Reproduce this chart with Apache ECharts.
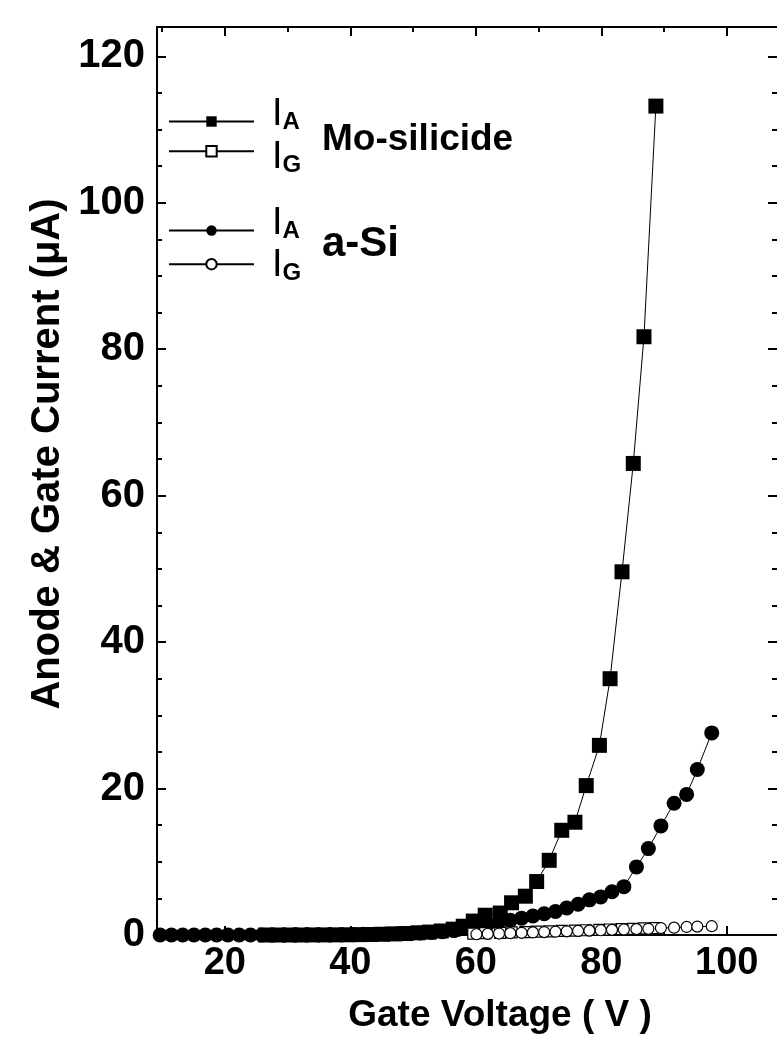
<!DOCTYPE html>
<html>
<head>
<meta charset="utf-8">
<script src="https://cdn.jsdelivr.net/npm/echarts@6/dist/echarts.min.js"></script>
<style>
  html, body { margin: 0; padding: 0; background: #fff; }
  #chart { width: 777px; height: 1037px; }
</style>
</head>
<body>
<div id="chart"></div>
<script>
// gate voltage (V) and currents (uA)
var moV    = [26.5, 28.4, 30.3, 32.1, 34.0, 35.9, 37.7, 39.6, 41.5, 43.3, 45.2, 47.1, 48.9, 50.8, 52.6, 54.5, 56.4, 58.0,
              59.6, 61.5, 63.9, 65.7, 67.9, 69.7, 71.7, 73.7, 75.8, 77.6, 79.7, 81.4, 83.3, 85.1, 86.8, 88.7];
var moIA   = [0, 0, 0, 0, 0.01, 0.01, 0.02, 0.03, 0.05, 0.07, 0.1, 0.15, 0.2, 0.3, 0.4, 0.55, 0.8, 1.2,
              1.9, 2.7, 3.0, 4.4, 5.3, 7.3, 10.2, 14.3, 15.4, 20.4, 25.9, 35.0, 49.6, 64.4, 81.7, 113.2];
var moIGV  = [59.6, 61.5, 63.9, 65.7, 67.9, 69.7, 71.7, 73.7, 75.8, 77.6, 79.7, 81.4, 83.3, 85.1, 86.8, 88.7];
var moIG   = [0.2, 0.25, 0.3, 0.35, 0.4, 0.45, 0.5, 0.55, 0.6, 0.65, 0.7, 0.75, 0.8, 0.85, 0.9, 0.95];

var siV    = [9.7, 11.5, 13.3, 15.1, 16.9, 18.7, 20.5, 22.3, 24.1, 25.9, 27.7, 29.5, 31.3, 33.1, 34.9, 36.7, 38.5,
              40.3, 42.1, 43.9, 45.7, 47.5, 49.3, 51.1, 52.9, 54.7, 56.5, 58.3, 60.1, 61.9, 63.7, 65.5, 67.3,
              69.1, 70.9, 72.7, 74.5, 76.3, 78.1, 79.9, 81.7, 83.6, 85.6, 87.5, 89.5, 91.6, 93.6, 95.3, 97.6];
var siIA   = [0, 0, 0, 0, 0, 0, 0, 0, 0, 0, 0, 0.01, 0.02, 0.02, 0.03, 0.04, 0.05,
              0.07, 0.09, 0.11, 0.14, 0.18, 0.22, 0.28, 0.35, 0.45, 0.6, 0.9, 1.2, 1.5, 1.8, 2.0, 2.3,
              2.6, 2.9, 3.2, 3.7, 4.2, 4.8, 5.2, 5.9, 6.6, 9.3, 11.8, 14.9, 18.0, 19.2, 22.6, 27.6];
var siIGV  = [60.1, 61.9, 63.7, 65.5, 67.3, 69.1, 70.9, 72.7, 74.5, 76.3, 78.1, 79.9, 81.7, 83.6, 85.6, 87.5,
              89.5, 91.6, 93.6, 95.3, 97.6];
var siIG   = [0.1, 0.15, 0.2, 0.25, 0.3, 0.35, 0.4, 0.45, 0.5, 0.55, 0.6, 0.65, 0.7, 0.75, 0.8, 0.85,
              0.95, 1.0, 1.1, 1.15, 1.2];

var xMajor = [20, 40, 60, 80, 100];
var xMinor = [10, 30, 50, 70, 90];
var yMajor = [0, 20, 40, 60, 80, 100, 120];
var yMinor = [5, 10, 15, 25, 30, 35, 45, 50, 55, 65, 70, 75, 85, 90, 95, 105, 110, 115];

function pairs(xs, ys) {
    return xs.map(function (x, i) { return [x, ys[i]]; });
}

var FONT = 'Arial, "Liberation Sans", sans-serif';
var chart = echarts.init(document.getElementById('chart'));

function xAx(pos, ticks, len, showLine, showLabel) {
    return {
        type: 'value', position: pos, min: 9.2, max: 108,
        axisLine: { show: showLine, onZero: false, lineStyle: { color: '#000', width: 2 } },
        axisTick: { show: true, inside: true, length: len, customValues: ticks, lineStyle: { color: '#000', width: 2 } },
        axisLabel: showLabel ? { show: true, customValues: ticks, margin: 10, color: '#000',
            fontSize: 38, fontWeight: 'bold', fontFamily: FONT } : { show: false },
        splitLine: { show: false }
    };
}
function yAx(pos, ticks, len, showLine, showLabel) {
    return {
        type: 'value', position: pos, min: 0, max: 124,
        axisLine: { show: showLine, onZero: false, lineStyle: { color: '#000', width: 2 } },
        axisTick: { show: true, inside: true, length: len, customValues: ticks, lineStyle: { color: '#000', width: 2 } },
        axisLabel: showLabel ? { show: true, customValues: ticks, margin: 12, color: '#000',
            fontSize: 40, fontWeight: 'bold', fontFamily: FONT } : { show: false },
        splitLine: { show: false }
    };
}

function series(name, data, symbol, size, filled, z) {
    return {
        name: name, type: 'line', data: data, clip: false, z: z,
        symbol: symbol, symbolSize: size, showSymbol: true,
        lineStyle: { color: '#000', width: 1 },
        itemStyle: filled ? { color: '#000', borderColor: '#000', borderWidth: 0 }
                          : { color: '#fff', borderColor: '#000', borderWidth: 1.2 },
        emphasis: { disabled: true },
        animation: false
    };
}

function subLabel(x, y, sub) {
    return {
        type: 'text', x: x, y: y,
        style: { text: '{i|I}{s|' + sub + '}', textVerticalAlign: 'bottom',
                 rich: { i: { fontSize: 38, fontFamily: FONT, fill: '#000', verticalAlign: 'bottom' },
                         s: { fontSize: 24, fontWeight: 'bold', fontFamily: FONT, fill: '#000', verticalAlign: 'bottom' } } }
    };
}

var option = {
    backgroundColor: '#fff',
    animation: false,
    grid: { left: 157, right: 0, top: 27, bottom: 102 },
    xAxis: [
        xAx('bottom', xMajor, 9, true, true),
        xAx('bottom', xMinor, 5, false, false),
        xAx('top', xMajor, 9, true, false),
        xAx('top', xMinor, 5, false, false)
    ],
    yAxis: [
        yAx('left', yMajor, 9, true, true),
        yAx('left', yMinor, 5, false, false),
        yAx('right', yMajor, 9, false, false),
        yAx('right', yMinor, 5, false, false)
    ],
    legend: [
        { data: ['moIA', 'moIG'], orient: 'vertical', left: 168, top: 115, padding: 0,
          itemWidth: 85, itemHeight: 13, itemGap: 18, formatter: function () { return ''; },
          selectedMode: false },
        { data: ['siIA', 'siIG'], orient: 'vertical', left: 168, top: 224, padding: 0,
          itemWidth: 85, itemHeight: 13, itemGap: 22, formatter: function () { return ''; },
          selectedMode: false }
    ],
    series: [
        series('moIA', pairs(moV, moIA), 'rect', 15, true, 3),
        series('siIA', pairs(siV, siIA), 'circle', 15, true, 3),
        series('moIG', pairs(moIGV, moIG), 'rect', 11, false, 4),
        series('siIG', pairs(siIGV, siIG), 'circle', 11, false, 4)
    ],
    graphic: [
        { type: 'text', x: 48, y: 454, rotation: Math.PI / 2,
          style: { text: 'Anode & Gate Current (μA)', fill: '#000', font: 'bold 40px ' + FONT,
                   textAlign: 'center', textVerticalAlign: 'middle' } },
        { type: 'text', x: 500, y: 1016,
          style: { text: 'Gate Voltage ( V )', fill: '#000', font: 'bold 37px ' + FONT,
                   textAlign: 'center', textVerticalAlign: 'middle' } },
        subLabel(272, 134, 'A'),
        subLabel(272, 177, 'G'),
        subLabel(272, 243, 'A'),
        subLabel(272, 285, 'G'),
        { type: 'text', x: 322, y: 140,
          style: { text: 'Mo-silicide', fill: '#000', font: 'bold 37px ' + FONT, textVerticalAlign: 'middle' } },
        { type: 'text', x: 322, y: 244,
          style: { text: 'a-Si', fill: '#000', font: 'bold 42px ' + FONT, textVerticalAlign: 'middle' } }
    ]
};

chart.setOption(option);
</script>
</body>
</html>
